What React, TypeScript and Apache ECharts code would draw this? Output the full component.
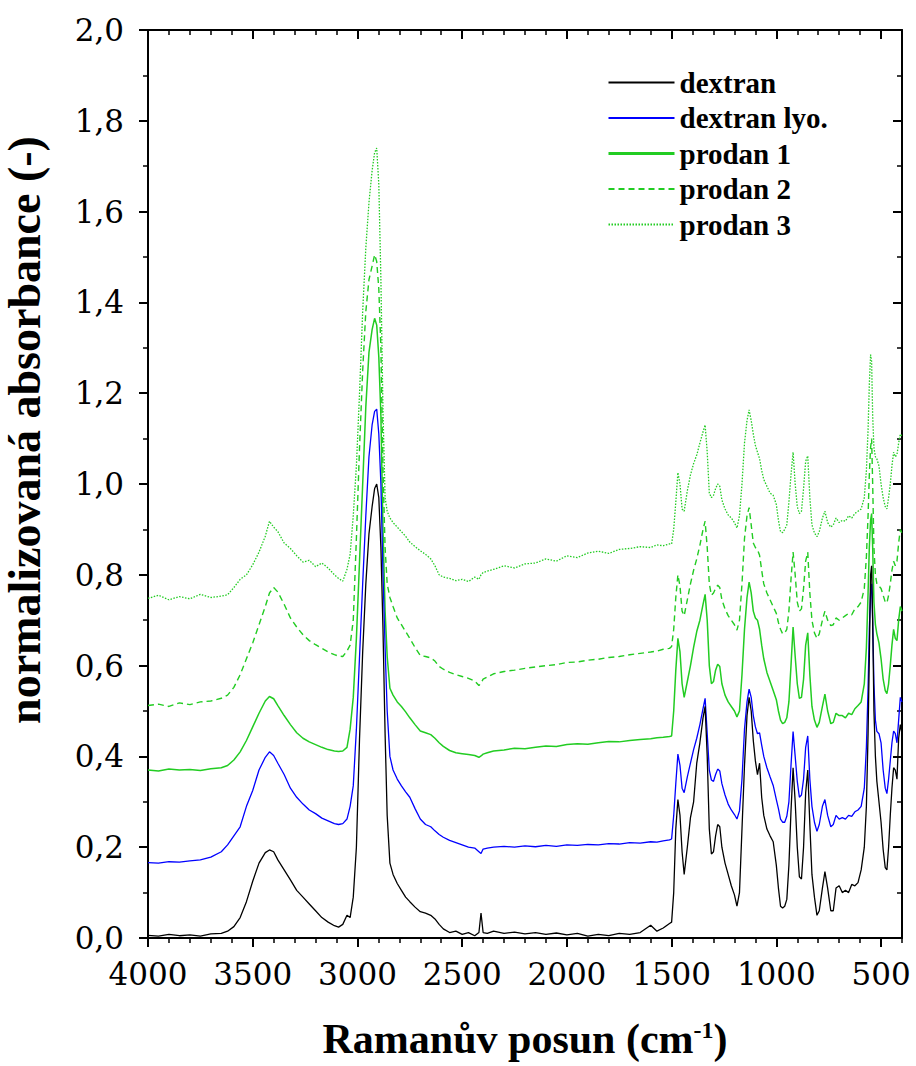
import React, { useEffect, useRef } from "react";
import * as echarts from "echarts";

// Raman shift (cm-1) sampling positions
const shift = [
  4000, 3950, 3900, 3850, 3800, 3750, 3700, 3650, 3620, 3590, 3560, 3530, 3500, 3470, 3440, 3420, 3400, 3380, 3350, 3320, 3290, 3260, 3230, 3200, 3170, 3140, 3110, 3090, 3070, 3050,
  3035, 3020, 3005, 2990, 2975, 2960, 2945, 2930, 2918, 2908, 2898, 2888, 2878, 2868, 2858, 2845, 2830, 2810, 2790, 2770, 2750, 2725, 2700,
  2675, 2650, 2630, 2610, 2590, 2560, 2530, 2500, 2470, 2440, 2420, 2410, 2400, 2380, 2350, 2300, 2250, 2200, 2150, 2100, 2050, 2000, 1950, 1900, 1850, 1800, 1750, 1700, 1650, 1600, 1570, 1540, 1510,
  1500, 1490, 1480, 1470, 1460, 1450, 1440, 1425, 1410, 1395,
  1380, 1365, 1350, 1340, 1330, 1320, 1310, 1300, 1290, 1280,
  1270, 1260, 1245, 1230, 1215, 1200, 1188, 1176, 1164, 1152,
  1140, 1130, 1120, 1110, 1100, 1090, 1080, 1070, 1060, 1045,
  1030, 1015, 1000, 990, 980, 970, 960, 950, 940, 930,
  920, 910, 900, 890, 880, 870, 860, 850, 840, 830,
  818, 806, 795, 780, 768, 755, 740, 728, 715, 700,
  685, 670, 655, 640, 625, 610, 595, 580, 570, 562,
  556, 550, 545, 540, 534, 527, 520, 510, 500, 490,
  480, 472, 464, 456, 448, 440, 432, 424, 416, 408,
  400,
];

const dextran = [
  0.006, 0.004, 0.008, 0.005, 0.007, 0.004, 0.009, 0.010, 0.015, 0.025, 0.045, 0.080, 0.125, 0.165, 0.188, 0.194, 0.190, 0.172, 0.150, 0.128, 0.105, 0.090, 0.075, 0.060, 0.045, 0.035, 0.027, 0.024, 0.030, 0.050,
  0.045, 0.09, 0.2, 0.44, 0.63, 0.78, 0.89, 0.95, 0.99, 1.0, 0.97, 0.86, 0.68, 0.45, 0.27, 0.165, 0.14, 0.12, 0.105, 0.09, 0.08, 0.068, 0.058,
  0.055, 0.05, 0.042, 0.03, 0.02, 0.012, 0.015, 0.008, 0.012, 0.005, 0.012, 0.055, 0.012, 0.01, 0.015, 0.01, 0.013, 0.009, 0.012, 0.008, 0.011, 0.007, 0.01, 0.004, 0.008, 0.005, 0.01, 0.008, 0.012, 0.028, 0.015, 0.022, 0.032,
  0.035, 0.1, 0.24, 0.305, 0.27, 0.19, 0.14, 0.2, 0.265, 0.3,
  0.385, 0.43, 0.485, 0.51, 0.4, 0.24, 0.185, 0.19, 0.225, 0.25,
  0.245, 0.2, 0.165, 0.14, 0.115, 0.095, 0.07, 0.1, 0.24, 0.38,
  0.49, 0.53, 0.5, 0.435, 0.39, 0.36, 0.385, 0.31, 0.27, 0.24,
  0.225, 0.212, 0.16, 0.11, 0.07, 0.066, 0.07, 0.085, 0.16, 0.28,
  0.375, 0.3, 0.2, 0.135, 0.13, 0.2, 0.32, 0.37, 0.25, 0.14,
  0.09, 0.05, 0.06, 0.11, 0.146, 0.11, 0.06, 0.06, 0.11, 0.115,
  0.1, 0.105, 0.1, 0.118, 0.115, 0.122, 0.15, 0.2, 0.29, 0.45,
  0.62, 0.8, 0.82, 0.7, 0.5, 0.4, 0.345, 0.3, 0.255, 0.195,
  0.155, 0.15, 0.2, 0.27, 0.33, 0.375, 0.37, 0.35, 0.44, 0.47,
  0.45,
];

const dextranLyo = [
  0.166, 0.165, 0.168, 0.167, 0.170, 0.172, 0.178, 0.190, 0.205, 0.225, 0.245, 0.290, 0.325, 0.370, 0.398, 0.410, 0.402, 0.385, 0.360, 0.330, 0.310, 0.295, 0.282, 0.274, 0.264, 0.258, 0.252, 0.250, 0.252, 0.262,
  0.29, 0.335, 0.46, 0.62, 0.78, 0.93, 1.06, 1.13, 1.16, 1.165, 1.11, 1.0, 0.8, 0.64, 0.5, 0.4, 0.37, 0.35, 0.335, 0.322, 0.31, 0.285, 0.262,
  0.25, 0.245, 0.236, 0.228, 0.222, 0.215, 0.21, 0.205, 0.2, 0.198, 0.19, 0.186, 0.196, 0.198, 0.2, 0.202, 0.2, 0.203, 0.201, 0.204, 0.202, 0.205, 0.204, 0.206, 0.205, 0.208, 0.207, 0.21, 0.209, 0.212, 0.211, 0.214, 0.216,
  0.218, 0.27, 0.34, 0.405, 0.38, 0.33, 0.32, 0.355, 0.385, 0.415,
  0.44, 0.47, 0.505, 0.528, 0.45, 0.37, 0.348, 0.345, 0.36, 0.372,
  0.368, 0.34, 0.315, 0.295, 0.282, 0.272, 0.262, 0.28, 0.35, 0.46,
  0.52, 0.548, 0.53, 0.49, 0.465, 0.45, 0.452, 0.425, 0.4, 0.375,
  0.355, 0.336, 0.305, 0.285, 0.262, 0.255, 0.255, 0.268, 0.3, 0.38,
  0.455, 0.4, 0.345, 0.31, 0.315, 0.35, 0.42, 0.445, 0.35, 0.29,
  0.255, 0.235, 0.25, 0.29, 0.305, 0.27, 0.245, 0.25, 0.27, 0.262,
  0.265, 0.262, 0.27, 0.268, 0.278, 0.282, 0.29, 0.33, 0.42, 0.55,
  0.68, 0.76, 0.78, 0.7, 0.56, 0.48, 0.455, 0.45, 0.43, 0.37,
  0.33, 0.318, 0.35, 0.39, 0.43, 0.456, 0.45, 0.43, 0.48, 0.53,
  0.52,
];

const prodan1 = [
  0.370, 0.368, 0.372, 0.370, 0.371, 0.369, 0.373, 0.375, 0.380, 0.392, 0.410, 0.435, 0.465, 0.495, 0.522, 0.532, 0.527, 0.512, 0.490, 0.470, 0.452, 0.440, 0.432, 0.426, 0.420, 0.415, 0.412, 0.411, 0.412, 0.420,
  0.46, 0.53, 0.66, 0.83, 1.0, 1.17, 1.29, 1.34, 1.365, 1.35, 1.28, 1.15, 0.9, 0.72, 0.62, 0.55, 0.535, 0.52, 0.51, 0.498, 0.485, 0.47, 0.456,
  0.452, 0.448, 0.44, 0.43, 0.422, 0.413, 0.408, 0.406, 0.404, 0.402, 0.398, 0.401, 0.405, 0.408, 0.412, 0.414, 0.418, 0.417, 0.42, 0.423, 0.422, 0.426, 0.428, 0.427, 0.43, 0.433, 0.432, 0.435, 0.437, 0.439, 0.441, 0.442, 0.444,
  0.445, 0.5, 0.59, 0.66, 0.63, 0.56, 0.53, 0.565, 0.6, 0.64,
  0.675, 0.7, 0.735, 0.757, 0.7, 0.6, 0.56, 0.565, 0.59, 0.603,
  0.598, 0.56, 0.535, 0.52, 0.51, 0.5, 0.487, 0.5, 0.58, 0.68,
  0.75, 0.784, 0.76, 0.72, 0.705, 0.7, 0.68, 0.645, 0.615, 0.585,
  0.565, 0.545, 0.525, 0.5, 0.48, 0.472, 0.475, 0.485, 0.52, 0.6,
  0.685, 0.62, 0.56, 0.528, 0.53, 0.57, 0.645, 0.672, 0.58, 0.51,
  0.48, 0.464, 0.475, 0.51, 0.537, 0.5, 0.472, 0.475, 0.495, 0.49,
  0.49, 0.485, 0.495, 0.492, 0.505, 0.512, 0.52, 0.56, 0.64, 0.76,
  0.86, 0.92, 0.935, 0.86, 0.74, 0.69, 0.67, 0.65, 0.615, 0.57,
  0.545, 0.538, 0.56, 0.6, 0.645, 0.68, 0.66, 0.655, 0.7, 0.73,
  0.72,
];

const prodan2 = [
  0.512, 0.515, 0.510, 0.518, 0.514, 0.520, 0.522, 0.528, 0.535, 0.552, 0.580, 0.615, 0.650, 0.690, 0.730, 0.760, 0.772, 0.762, 0.735, 0.705, 0.685, 0.668, 0.655, 0.646, 0.638, 0.630, 0.624, 0.621, 0.620, 0.632,
  0.645, 0.7, 0.88, 1.08, 1.25, 1.38, 1.45, 1.48, 1.505, 1.49, 1.43, 1.3, 1.03, 0.86, 0.78, 0.75, 0.73, 0.705, 0.69, 0.675, 0.66, 0.64, 0.622,
  0.62, 0.617, 0.61, 0.598, 0.592, 0.585, 0.58, 0.576, 0.572, 0.566, 0.556, 0.562, 0.57, 0.575, 0.582, 0.587, 0.59, 0.594, 0.597, 0.6, 0.602, 0.607, 0.608, 0.612, 0.614, 0.618, 0.62, 0.624, 0.627, 0.63, 0.632, 0.636, 0.638,
  0.642, 0.68, 0.75, 0.8, 0.775, 0.72, 0.71, 0.745, 0.78, 0.81,
  0.835, 0.865, 0.9, 0.918, 0.86, 0.78, 0.755, 0.76, 0.77, 0.777,
  0.772, 0.745, 0.725, 0.71, 0.7, 0.69, 0.678, 0.7, 0.78, 0.88,
  0.93, 0.948, 0.91, 0.87, 0.86, 0.855, 0.843, 0.81, 0.78, 0.76,
  0.745, 0.73, 0.715, 0.695, 0.68, 0.67, 0.672, 0.68, 0.72, 0.79,
  0.85, 0.8, 0.74, 0.72, 0.725, 0.77, 0.83, 0.85, 0.76, 0.7,
  0.672, 0.66, 0.67, 0.7, 0.72, 0.7, 0.688, 0.69, 0.705, 0.7,
  0.705, 0.71, 0.715, 0.712, 0.725, 0.73, 0.74, 0.77, 0.84, 0.93,
  1.02, 1.08, 1.1, 1.0, 0.86, 0.8, 0.78, 0.775, 0.77, 0.755,
  0.74, 0.738, 0.755, 0.78, 0.81, 0.83, 0.82, 0.83, 0.87, 0.9,
  0.89,
];

const prodan3 = [
  0.748, 0.755, 0.745, 0.752, 0.747, 0.757, 0.750, 0.753, 0.756, 0.772, 0.790, 0.800, 0.822, 0.850, 0.885, 0.918, 0.905, 0.895, 0.870, 0.858, 0.842, 0.828, 0.832, 0.818, 0.826, 0.815, 0.800, 0.792, 0.786, 0.812,
  0.845, 0.93, 1.04, 1.2, 1.38, 1.52, 1.62, 1.69, 1.73, 1.74, 1.66, 1.45, 1.16, 0.97, 0.94, 0.925, 0.915, 0.905, 0.895, 0.885, 0.872, 0.862, 0.853,
  0.845, 0.835, 0.82, 0.8, 0.795, 0.792, 0.787, 0.79, 0.785, 0.795, 0.79, 0.8, 0.805, 0.808, 0.812, 0.82, 0.815, 0.824, 0.826, 0.835, 0.83, 0.842, 0.838, 0.848, 0.852, 0.847, 0.856, 0.858, 0.862, 0.86, 0.866, 0.864, 0.868,
  0.868, 0.9, 0.96, 1.025, 1.0, 0.945, 0.94, 0.985, 1.02, 1.045,
  1.064, 1.09, 1.115, 1.13, 1.07, 0.98, 0.97, 0.975, 0.99, 1.0,
  0.995, 0.965, 0.945, 0.932, 0.925, 0.915, 0.903, 0.93, 1.0, 1.09,
  1.14, 1.163, 1.14, 1.11, 1.085, 1.07, 1.056, 1.03, 1.01, 0.995,
  0.98, 0.975, 0.955, 0.92, 0.895, 0.893, 0.9, 0.91, 0.96, 1.02,
  1.07, 1.0, 0.95, 0.935, 0.94, 0.99, 1.05, 1.062, 0.97, 0.91,
  0.892, 0.884, 0.895, 0.925, 0.94, 0.915, 0.905, 0.91, 0.925, 0.915,
  0.92, 0.918, 0.93, 0.925, 0.935, 0.94, 0.945, 0.97, 1.03, 1.12,
  1.22, 1.285, 1.27, 1.15, 1.08, 1.06, 1.055, 1.04, 1.0, 0.97,
  0.95, 0.945, 0.97, 1.0, 1.04, 1.07, 1.06, 1.065, 1.09, 1.11,
  1.105,
];

const xMajorTicks = [500, 1000, 1500, 2000, 2500, 3000, 3500, 4000];
const seriesNames = ["dextran", "dextran lyo.", "prodan 1", "prodan 2", "prodan 3"];

const TICK_FONT = '"DejaVu Serif", serif';
const TITLE_FONT = '"Liberation Serif", serif';
const GREEN = "#22cc22";

export default function App() {
  const ref = useRef<HTMLDivElement>(null);

  useEffect(() => {
    const chart = echarts.init(ref.current as HTMLDivElement, null, { renderer: "svg" });
    const pair = (vals: number[]) => shift.map((x, i) => [x, vals[i]]);
    const axisLineStyle = { color: "#000", width: 2 };
    const xBase = {
      type: "value",
      min: 400,
      max: 4000,
      inverse: true,
      splitLine: { show: false },
      minorSplitLine: { show: false },
    };
    const yBase = {
      type: "value",
      min: 0,
      max: 2,
      interval: 0.2,
      splitLine: { show: false },
      minorSplitLine: { show: false },
      minorTick: { show: true, splitNumber: 2, length: 5, lineStyle: { color: "#000", width: 1.5 } },
    };

    const option: any = {
      animation: false,
      backgroundColor: "#ffffff",
      grid: { left: 148, right: 14, top: 30, bottom: 128, containLabel: false, outerBoundsMode: "none" },
      legend: {
        show: true,
        orient: "vertical",
        left: 607,
        top: 68,
        padding: 0,
        itemWidth: 66,
        itemHeight: 14,
        itemGap: 6.5,
        selectedMode: false,
        itemStyle: { color: "rgba(0,0,0,0)", borderColor: "rgba(0,0,0,0)", borderWidth: 0, opacity: 0 },
        data: [
          { name: "dextran" },
          { name: "dextran lyo." },
          { name: "prodan 1", lineStyle: { width: 3 } },
          { name: "prodan 2" },
          { name: "prodan 3", lineStyle: { width: 2 } },
        ],
        textStyle: { fontFamily: TITLE_FONT, fontWeight: "bold", fontSize: 29, color: "#000" },
      },
      xAxis: [
        {
          ...xBase,
          position: "bottom",
          axisLine: { show: true, onZero: false, lineStyle: axisLineStyle },
          axisTick: { show: true, inside: false, length: 9, customValues: xMajorTicks, lineStyle: { color: "#000", width: 2 } },
          axisLabel: {
            show: true,
            customValues: xMajorTicks,
            margin: 20,
            fontFamily: TICK_FONT,
            fontSize: 31,
            color: "#000",
            formatter: (v: number) => String(Math.round(v)),
          },
          name: "Ramanův posun (cm{sup|-1})",
          nameLocation: "middle",
          nameGap: 80,
          nameTextStyle: {
            fontFamily: TITLE_FONT,
            fontWeight: "bold",
            fontSize: 42,
            color: "#000",
            rich: {
              sup: { fontFamily: TITLE_FONT, fontWeight: "bold", fontSize: 24, color: "#000", verticalAlign: "top" },
            },
          },
        },
        {
          ...xBase,
          position: "bottom",
          interval: 100,
          axisLine: { show: false, onZero: false },
          axisTick: { show: true, inside: false, length: 5, lineStyle: { color: "#000", width: 1.5 } },
          axisLabel: { show: false },
        },
        {
          ...xBase,
          position: "top",
          axisLine: { show: true, onZero: false, lineStyle: axisLineStyle },
          axisTick: { show: true, inside: true, length: 9, customValues: xMajorTicks, lineStyle: { color: "#000", width: 2 } },
          axisLabel: { show: false },
        },
        {
          ...xBase,
          position: "top",
          interval: 100,
          axisLine: { show: false, onZero: false },
          axisTick: { show: true, inside: true, length: 5, lineStyle: { color: "#000", width: 1.5 } },
          axisLabel: { show: false },
        },
      ],
      yAxis: [
        {
          ...yBase,
          position: "left",
          axisLine: { show: true, onZero: false, lineStyle: axisLineStyle },
          axisTick: { show: true, inside: false, length: 9, lineStyle: { color: "#000", width: 2 } },
          axisLabel: {
            show: true,
            margin: 24,
            fontFamily: TICK_FONT,
            fontSize: 31,
            color: "#000",
            formatter: (v: number) => v.toFixed(1).replace(".", ","),
          },
        },
        {
          ...yBase,
          position: "right",
          axisLine: { show: true, onZero: false, lineStyle: axisLineStyle },
          axisTick: { show: true, inside: true, length: 9, lineStyle: { color: "#000", width: 2 } },
          axisLabel: { show: false },
        },
      ],
      graphic: [
        {
          type: "text",
          x: 24,
          y: 430,
          rotation: Math.PI / 2,
          style: {
            text: "normalizovaná absorbance (-)",
            fill: "#000",
            fontFamily: TITLE_FONT,
            fontWeight: "bold",
            fontSize: 46,
            align: "center",
            verticalAlign: "middle",
          },
        },
      ],
      series: [
        {
          name: seriesNames[4],
          type: "line",
          data: pair(prodan3),
          showSymbol: false,
          symbol: "none",
          color: GREEN,
          lineStyle: { color: GREEN, width: 1.3, type: [1.5, 1.5] },
          z: 2,
        },
        {
          name: seriesNames[3],
          type: "line",
          data: pair(prodan2),
          showSymbol: false,
          symbol: "none",
          color: GREEN,
          lineStyle: { color: GREEN, width: 1.4, type: [6, 4] },
          z: 3,
        },
        {
          name: seriesNames[2],
          type: "line",
          data: pair(prodan1),
          showSymbol: false,
          symbol: "none",
          color: GREEN,
          lineStyle: { color: GREEN, width: 1.5 },
          z: 4,
        },
        {
          name: seriesNames[1],
          type: "line",
          data: pair(dextranLyo),
          showSymbol: false,
          symbol: "none",
          color: "#0000ff",
          lineStyle: { color: "#0000ff", width: 1.3 },
          z: 5,
        },
        {
          name: seriesNames[0],
          type: "line",
          data: pair(dextran),
          showSymbol: false,
          symbol: "none",
          color: "#000000",
          lineStyle: { color: "#000000", width: 1.3 },
          z: 6,
        },
      ],
    };

    chart.setOption(option);
    return () => chart.dispose();
  }, []);

  return (
    <div
      ref={ref}
      style={{ position: "fixed", left: 0, top: 0, width: 916, height: 1066, background: "#ffffff" }}
    />
  );
}
